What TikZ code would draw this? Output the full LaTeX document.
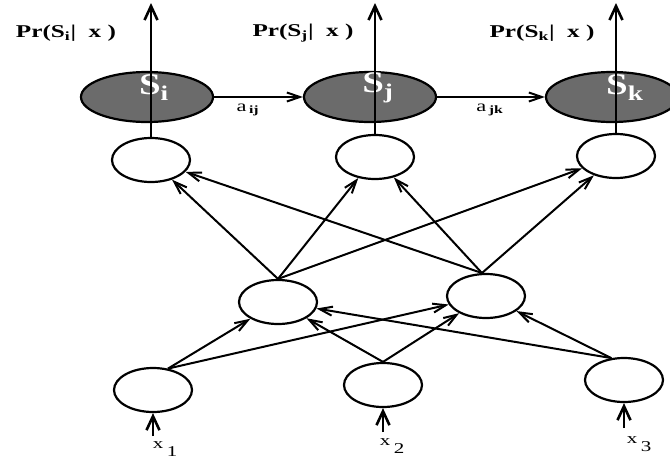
\documentclass[tikz,border=0pt]{standalone}
\usepackage{fontspec}
\setmainfont{Liberation Serif}
\usetikzlibrary{arrows.meta, positioning, shapes.geometric}

\begin{document}
\begin{tikzpicture}[
		x=1pt, y=-1pt,
		unit/.style={draw, ellipse, line width=2.2pt, minimum width=78pt, minimum height=44pt, inner sep=0pt},
		state/.style={draw, ellipse, line width=2.2pt, fill=black!58, minimum width=132pt, minimum height=50pt, inner sep=0pt},
		conn/.style={-{Straight Barb[length=13pt,width=9pt,line width=2pt]}, line width=2pt},
		outp/.style={-{Straight Barb[length=14pt,width=13pt,line width=2.6pt]}, line width=2.8pt},
		stlab/.style={text=white, font=\fontsize{30}{30}\selectfont, xscale=1.3, inner sep=0pt},
		prlab/.style={font=\fontsize{18}{18}\selectfont, xscale=1.4, inner sep=0pt},
		tlab/.style={font=\fontsize{16}{16}\selectfont, xscale=1.4, inner sep=0pt},
		xlab/.style={font=\fontsize{15}{15}\selectfont, xscale=1.4, inner sep=0pt}
		]
		
		\useasboundingbox (0,0) rectangle (670,458);
		
		% States
		\node[state] (si) at (147,97) {};
		\node[state] (sj) at (370,97) {};
		\node[state] (sk) at (612,97) {};
		\node[stlab] (si-t) at (154,88) {\textbf{S\textsubscript{i}}};
		\node[stlab] (sj-t) at (378,88) {\textbf{S\textsubscript{j}}};
		\node[stlab] (sk-t) at (625,88) {\textbf{S\textsubscript{k}}};
		
		% Transitions
		\draw[conn] (si) -- (sj);
		\draw[conn] (sj) -- (sk);
		\node[tlab] (aij) at (248,110) {a\textsubscript{\,\textbf{ij}}};
		\node[tlab] (ajk) at (490,110) {a\textsubscript{\,\textbf{jk}}};
		
		% Network units
		\node[unit] (h1) at (151,160) {};
		\node[unit] (h2) at (375,157) {};
		\node[unit] (h3) at (616,156) {};
		\node[unit] (m1) at (278,302) {};
		\node[unit] (m2) at (486,296) {};
		\node[unit] (in1) at (153,390) {};
		\node[unit] (in2) at (383,385) {};
		\node[unit] (in3) at (624,380) {};
		
		% Outputs
		\coordinate (o1) at (h1.north |- 0,3);
		\coordinate (o2) at (h2.north |- 0,3);
		\coordinate (o3) at (h3.north |- 0,3);
		\draw[outp] (h1.north) -- (o1);
		\draw[outp] (h2.north) -- (o2);
		\draw[outp] (h3.north) -- (o3);
		\node[prlab] (pri) at (66,33) {\textbf{Pr(S\textsubscript{i}|\ \ x )}};
		\node[prlab] (prj) at (303,33) {\textbf{Pr(S\textsubscript{j}|\ \ x )}};
		\node[prlab] (prk) at (542,33) {\textbf{Pr(S\textsubscript{k}|\ \ x )}};
		
		% Inputs
		\coordinate (i1) at (in1.south |- 0,436);
		\coordinate (i2) at (in2.south |- 0,432);
		\coordinate (i3) at (in3.south |- 0,428);
		\draw[outp] (i1) -- (in1.south);
		\draw[outp] (i2) -- (in2.south);
		\draw[outp] (i3) -- (in3.south);
		\node[xlab] (x1) at (165,449) {x\,\raisebox{-0.5em}{1}};
		\node[xlab] (x2) at (392,446) {x\,\raisebox{-0.5em}{2}};
		\node[xlab] (x3) at (639,444) {x\,\raisebox{-0.5em}{3}};
		
		% Input to hidden
		\draw[conn] (in1.55) -- (m1);
		\draw[conn] (in1.55) -- (m2);
		\draw[conn] (in2.north) -- (m1);
		\draw[conn] (in2.north) -- (m2);
		\draw[conn] (in3.120) -- (m1);
		\draw[conn] (in3.120) -- (m2);
		
		% Hidden to top
		\draw[conn] (m1.north) -- (h1);
		\draw[conn] (m1.north) -- (h2);
		\draw[conn] (m1.north) -- (h3);
		\draw[conn] (m2.100) -- (h1);
		\draw[conn] (m2.100) -- (h2);
		\draw[conn] (m2.100) -- (h3);
		
	\end{tikzpicture}
\end{document}
